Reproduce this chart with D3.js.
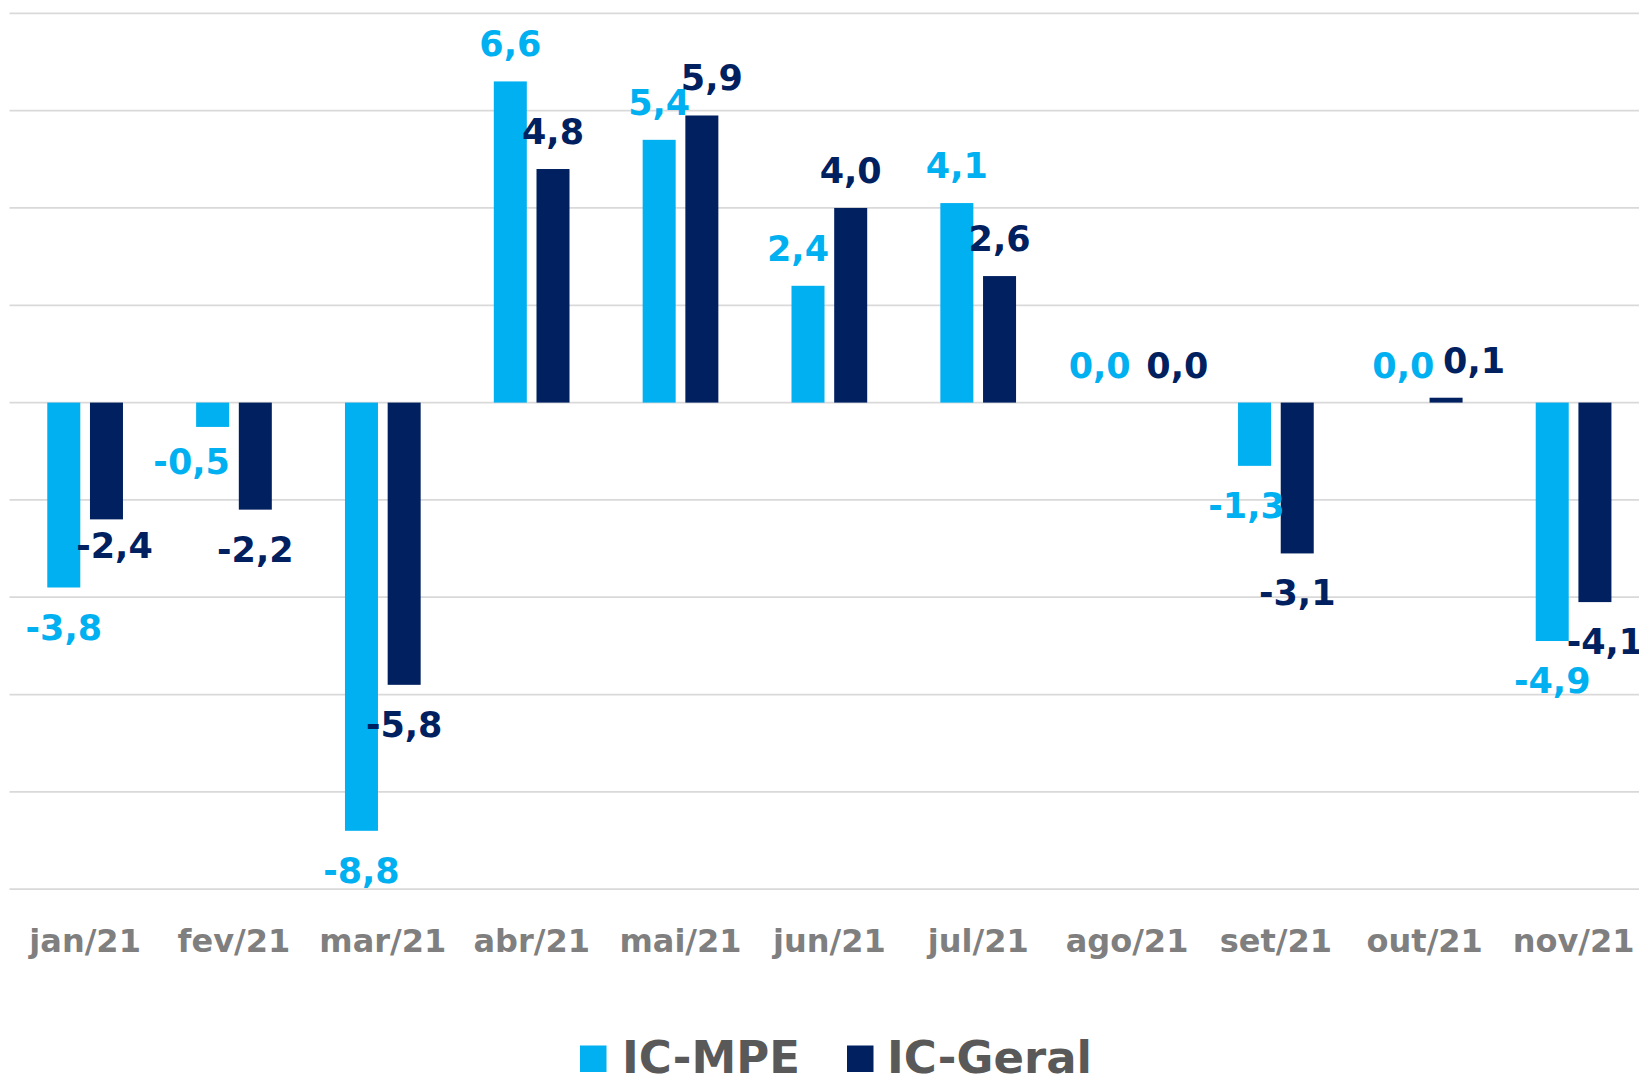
<!DOCTYPE html>
<html>
<head>
<meta charset="utf-8">
<script src="https://cdn.jsdelivr.net/npm/d3@7"></script>
<style>
  html, body { margin: 0; padding: 0; background: #fff; overflow: hidden; }
  svg { display: block; font-family: "DejaVu Sans", sans-serif; font-weight: bold; }
</style>
</head>
<body>
<div id="chart"></div>
<script>
const months = ["jan/21", "fev/21", "mar/21", "abr/21", "mai/21", "jun/21", "jul/21", "ago/21", "set/21", "out/21", "nov/21"];
const seriesNames = ["IC-MPE", "IC-Geral"];
const icMpe = [-3.8, -0.5, -8.8, 6.6, 5.4, 2.4, 4.1, 0.0, -1.3, 0.0, -4.9];
const icGeral = [-2.4, -2.2, -5.8, 4.8, 5.9, 4.0, 2.6, 0.0, -3.1, 0.1, -4.1];
const gridValues = [-10, -8, -6, -4, -2, 0, 2, 4, 6, 8];

const colors = { "IC-MPE": "#00b0f0", "IC-Geral": "#002060" };

// small label nudges, like the ones the original chart made to avoid overlap
const labelNudge = {
  "jan/21|IC-Geral": [8, -13],
  "fev/21|IC-MPE": [-21, -5],
  "mai/21|IC-Geral": [10, 0],
  "jun/21|IC-MPE": [-10, 0],
  "ago/21|IC-MPE": [-6, 0],
  "ago/21|IC-Geral": [29, 0],
  "set/21|IC-MPE": [-8, 0],
  "out/21|IC-Geral": [28, 0],
  "nov/21|IC-Geral": [10, 0]
};

const width = 1639;
const height = 1074;

const rows = months.map((m, i) => ({ month: m, "IC-MPE": icMpe[i], "IC-Geral": icGeral[i] }));

const svg = d3.select("#chart")
  .append("svg")
  .attr("width", width)
  .attr("height", height);

// plot runs past the right edge, the original is cropped there
const x = d3.scaleBand()
  .domain(months)
  .range([10.7, 1648])
  .padding(0);

const xSeries = d3.scaleBand()
  .domain(seriesNames)
  .range([x.bandwidth() / 2 - 37.85, x.bandwidth() / 2 + 37.85])
  .paddingInner(0.227);

const y = d3.scaleLinear()
  .domain([-10, 8])
  .range([889.2, 13.3]);

// gridlines
svg.append("g")
  .selectAll("line")
  .data(gridValues)
  .join("line")
  .attr("x1", 9.5)
  .attr("x2", width)
  .attr("y1", d => y(d))
  .attr("y2", d => y(d))
  .attr("stroke", "#d9d9d9")
  .attr("stroke-width", 1.75);

// bars
const groups = svg.append("g")
  .selectAll("g")
  .data(rows)
  .join("g")
  .attr("transform", d => `translate(${x(d.month)},0)`);

groups.selectAll("rect")
  .data(d => seriesNames.map(s => ({ month: d.month, key: s, value: d[s] })))
  .join("rect")
  .attr("x", d => xSeries(d.key))
  .attr("width", xSeries.bandwidth())
  .attr("y", d => y(Math.max(0, d.value)))
  .attr("height", d => Math.abs(y(d.value) - y(0)))
  .attr("fill", d => colors[d.key]);

// value labels
const fmt = v => v.toFixed(1).replace(".", ",");

groups.selectAll("text")
  .data(d => seriesNames.map(s => ({ month: d.month, key: s, value: d[s] })))
  .join("text")
  .attr("x", d => xSeries(d.key) + xSeries.bandwidth() / 2 + (labelNudge[d.month + "|" + d.key] || [0, 0])[0])
  .attr("y", d => (d.value < 0 ? y(d.value) + 52 : y(d.value) - 25) + (labelNudge[d.month + "|" + d.key] || [0, 0])[1])
  .attr("text-anchor", "middle")
  .attr("font-size", "35px")
  .attr("fill", d => colors[d.key])
  .text(d => fmt(d.value));

// x axis labels
const xAxis = svg.append("g")
  .attr("transform", "translate(0,952)")
  .call(d3.axisBottom(x).tickSize(0).tickPadding(0));

xAxis.select(".domain").remove();
xAxis.selectAll("text")
  .attr("dy", 0)
  .attr("y", 0)
  .attr("font-family", "DejaVu Sans, sans-serif")
  .attr("font-weight", "bold")
  .attr("font-size", "32px")
  .attr("fill", "#7f7f7f");

// legend
const legendItems = [
  { name: seriesNames[0], sx: 580, tx: 622 },
  { name: seriesNames[1], sx: 847, tx: 887 }
];

const legend = svg.append("g").attr("class", "legend");

legend.selectAll("rect")
  .data(legendItems)
  .join("rect")
  .attr("x", d => d.sx)
  .attr("y", 1045.5)
  .attr("width", 26.5)
  .attr("height", 26.5)
  .attr("fill", d => colors[d.name]);

legend.selectAll("text")
  .data(legendItems)
  .join("text")
  .attr("x", d => d.tx)
  .attr("y", 1073)
  .attr("font-size", "45px")
  .attr("fill", "#595959")
  .text(d => d.name);
</script>
</body>
</html>
